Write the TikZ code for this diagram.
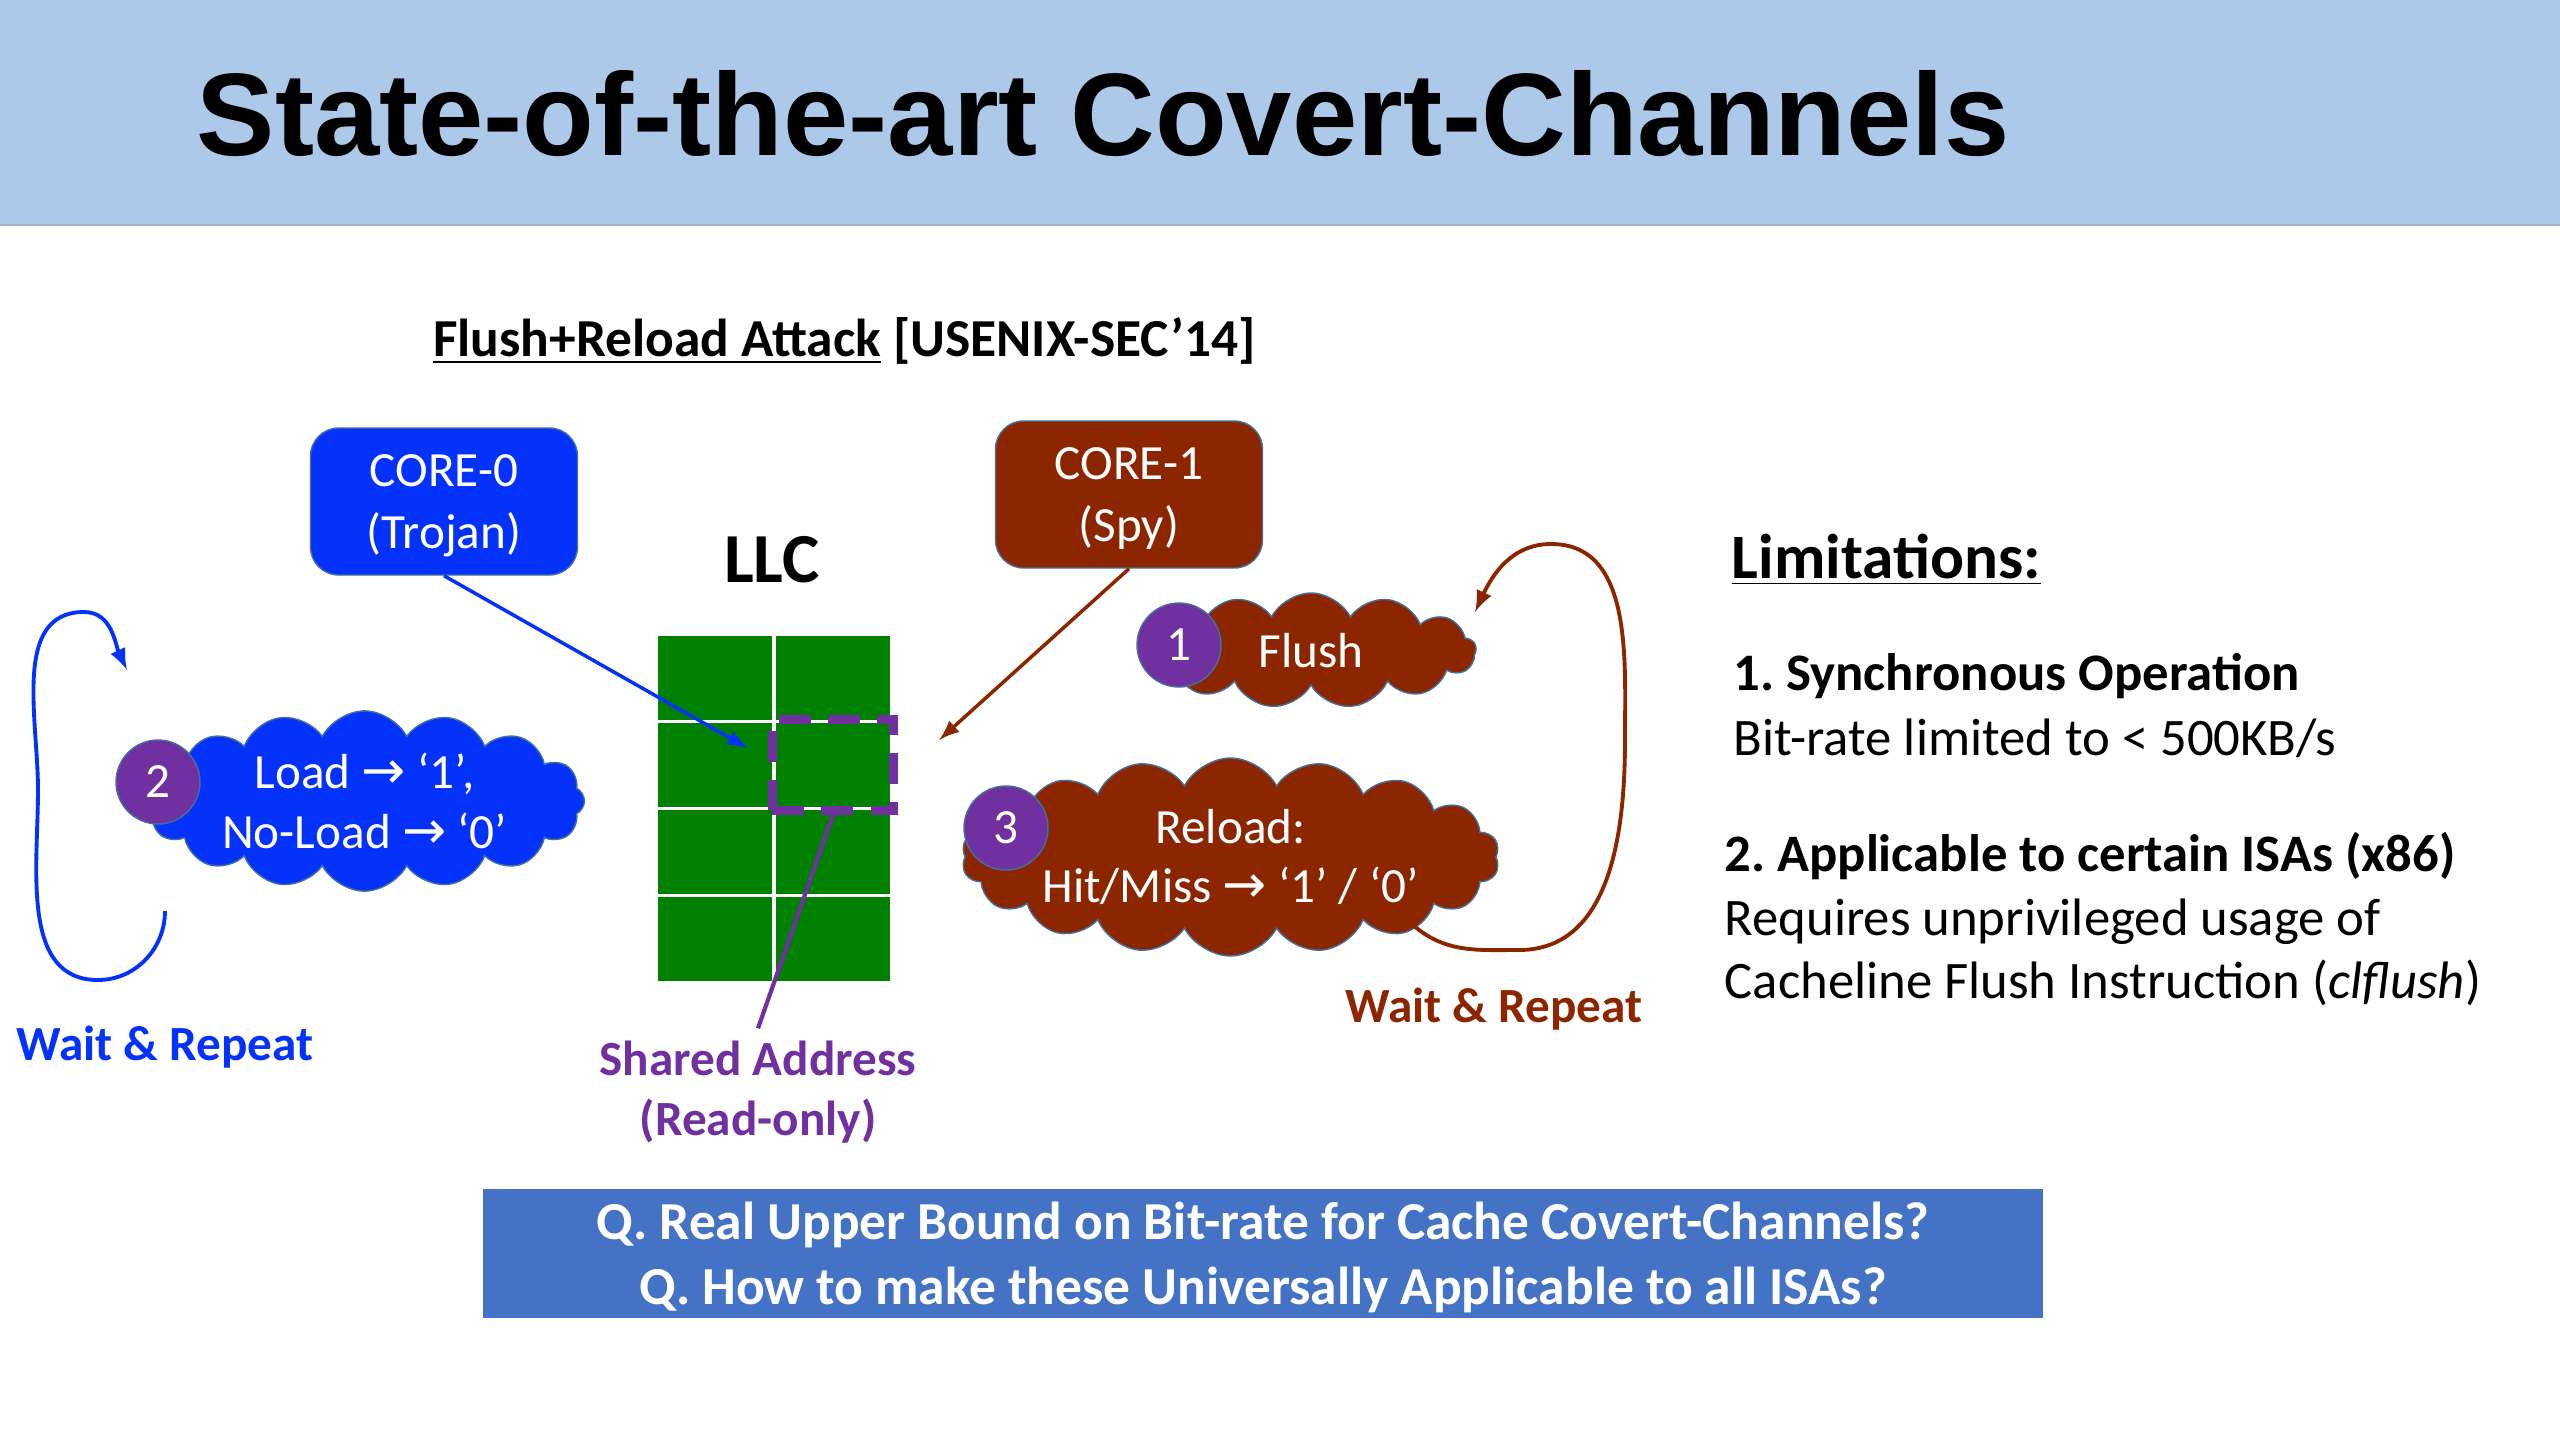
\documentclass[tikz,border=0pt]{standalone}
\usepackage{fontspec}
\setmainfont{Carlito}
\newfontfamily\titlefont{Liberation Sans}
\newfontfamily\arrowfont{DejaVu Sans}
\usetikzlibrary{matrix,positioning,shapes.symbols,fit,arrows}

\definecolor{headblue}{RGB}{173,201,233}
\definecolor{trojanblue}{RGB}{5,50,250}
\definecolor{spyred}{RGB}{140,38,0}
\definecolor{addrpurple}{RGB}{112,48,160}
\definecolor{llcgreen}{RGB}{0,128,0}
\definecolor{qblue}{RGB}{68,114,196}
\definecolor{rimblue}{RGB}{65,113,156}

\newcommand{\gives}{{\arrowfont\fontsize{15}{17}\selectfont →}}
\frenchspacing

\begin{document}
\begin{tikzpicture}[
corebox/.style={
  draw=rimblue,
  rounded corners=8pt,
  text=white,
  align=center,
  minimum width=2.67cm,
  minimum height=1.47cm,
  text depth=0pt,
  font=\fontsize{14}{17.5}\selectfont
  },
puff/.style={
  cloud,
  cloud puffs=16,
  cloud puff arc=125,
  cloud ignores aspect,
  draw=rimblue,
  text=white,
  align=center,
  inner sep=0pt,
  font=\fontsize{14}{17}\selectfont
  },
badge/.style={
  circle,
  draw=rimblue,
  fill=addrpurple,
  text=white,
  minimum size=0.84cm,
  inner sep=0pt,
  font=\fontsize{14}{17}\selectfont
  },
llc/.style={
  matrix of nodes,
  nodes={
    draw=white,
    fill=llcgreen,
    line width=1pt,
    minimum width=1.18cm,
    minimum height=0.87cm,
    inner sep=0pt
    },
  nodes in empty cells,
  column sep=-1pt,
  row sep=-1pt,
  inner sep=0pt
  },
share/.style={
  draw=addrpurple,
  line width=2.5pt,
  dash pattern=on 9pt off 5pt,
  inner sep=0pt
  },
note/.style={
  inner sep=0pt,
  anchor=base west,
  font=\fontsize{15}{18}\selectfont
  },
loopline/.style={
  ->,
  line width=1.1pt
  },
>=latex
]
\useasboundingbox (0,0) rectangle (25.6,-14.4);

% header
\fill[headblue] (0,0) rectangle (25.6,-2.25);
\draw[rimblue!50] (0,-2.25) -- (25.6,-2.25);
\node[anchor=west, inner sep=0pt, font=\titlefont\bfseries\fontsize{33.4}{40}\selectfont]
  (title) at (1.96,-1.14) {State-of-the-art Covert-Channels};

\node[inner sep=0pt, font=\bfseries\fontsize{15.2}{18}\selectfont] (attack) at (8.445,-3.41)
  {\underline{Flush+Reload Attack} [USENIX-SEC’14]};

% cores
\node[corebox, fill=trojanblue] (core0) at (4.44,-5.015) {CORE-0\\(Trojan)};
\node[corebox, fill=spyred] (core1) at (11.29,-4.945) {CORE-1\\(Spy)};

% last level cache
\node[font=\bfseries\fontsize{20}{24}\selectfont] (llclabel) at (7.72,-5.60) {LLC};
\matrix[llc] (mat) at (7.74,-8.085)
{
 & \\
 & \\
 & \\
 & \\
};
\node[share, fit=(mat-2-2)] (share) {};
\node[align=center, text=addrpurple, inner sep=0pt,
  font=\bfseries\fontsize{14}{17}\selectfont] (shared) at (7.58,-10.92)
  {Shared Address\\(Read-only)};

% trojan side
\node[puff, fill=trojanblue, minimum width=4.4cm, minimum height=1.8cm] (load) at (3.645,-8.01)
  {Load \gives{} ‘1’,\\No-Load \gives{} ‘0’};
\node[badge] (two) at (1.58,-7.82) {2};

% spy side
\node[puff, fill=spyred, cloud puffs=13, minimum width=3.3cm, minimum height=1.15cm] (flush) at (13.11,-6.505) {Flush};
\node[badge] (one) at (11.79,-6.45) {1};
\node[puff, fill=spyred, cloud puffs=18, minimum width=5.2cm, minimum height=1.98cm] (reload) at (12.305,-8.57)
  {Reload:\\Hit/Miss \gives{} ‘1’ / ‘0’};
\node[badge] (three) at (10.06,-8.28) {3};

% connectors
\draw[->, trojanblue, line width=1pt] (core0.south) -- ([xshift=-0.2cm,yshift=0.17cm]share.west);
\draw[->, spyred, line width=1pt] (core1.south) -- ([xshift=0.41cm,yshift=0.25cm]share.east);
\draw[addrpurple, line width=1.2pt] (share.south) -- ([yshift=0.12cm]shared.north);

% wait and repeat loops
\coordinate (tl0) at (1.65,-9.11);
\coordinate (tl1) at (1.27,-6.70);
\draw[loopline, trojanblue] (tl0) to[out=-90,in=0] (0.98,-9.80) to[out=180,in=-90] (0.38,-7.9)
  to[out=90,in=180] (0.84,-6.12) to[out=0,in=115] (tl1);
\node[text=trojanblue, font=\bfseries\fontsize{14}{17}\selectfont] (wait0) at (1.65,-10.47) {Wait \& Repeat};

\coordinate (sl0) at (14.14,-9.26);
\coordinate (sl1) at (14.75,-6.12);
\draw[loopline, spyred] (sl0) to[out=-40,in=180] (15.19,-9.50) to[out=0,in=-90] (16.25,-7.4)
  to[out=90,in=0] (15.51,-5.44) to[out=180,in=65] (sl1);
\node[text=spyred, font=\bfseries\fontsize{14}{17}\selectfont] (wait1) at (14.94,-10.09) {Wait \& Repeat};

% limitations
\node[note, font=\bfseries\fontsize{18}{22}\selectfont] (lim) at (17.31,-5.78) {\underline{Limitations:}};
\node[note, font=\bfseries\fontsize{15}{18}\selectfont] (lim1) at (17.33,-6.90) {1. Synchronous Operation};
\node[note] (lim1a) at (17.33,-7.55) {Bit-rate limited to < 500KB/s};
\node[note, font=\bfseries\fontsize{15}{18}\selectfont] (lim2) at (17.24,-8.71) {2. Applicable to certain ISAs (x86)};
\node[note] (lim2a) at (17.24,-9.35) {Requires unprivileged usage of};
\node[note] (lim2b) at (17.24,-9.98) {Cacheline Flush Instruction (\textit{clflush})};

% open questions
\node[fill=qblue, text=white, align=center, minimum width=15.6cm, minimum height=1.29cm,
  text depth=0pt, font=\bfseries\fontsize{15.2}{18.5}\selectfont] (q) at (12.63,-12.535)
  {Q. Real Upper Bound on Bit-rate for Cache Covert-Channels?\\Q. How to make these Universally Applicable to all ISAs?};
\end{tikzpicture}
\end{document}
